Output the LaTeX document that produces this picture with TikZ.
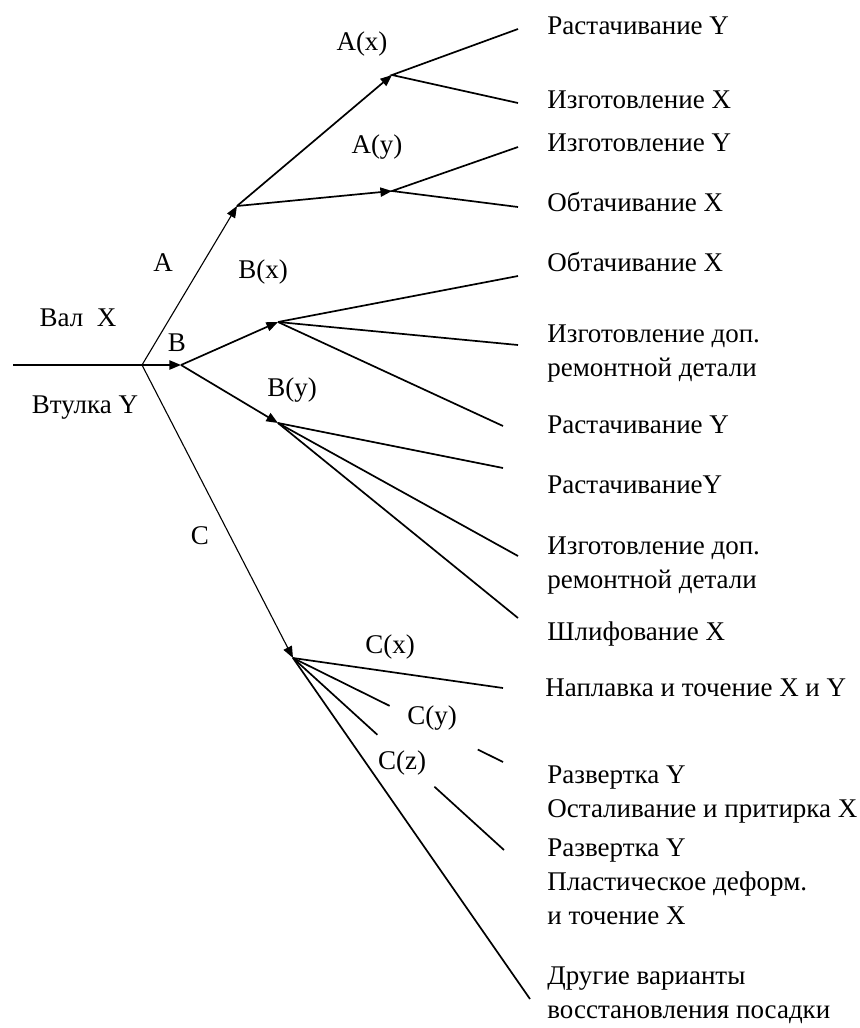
\documentclass[tikz,border=0pt]{standalone}
\usepackage{fontspec}
\setmainfont{Liberation Serif}
\usetikzlibrary{positioning,arrows.meta,calc}
\tikzset{
  >={Triangle[length=5.8pt,width=4.6pt]},
  every node/.style={font=\fontsize{13.5}{17}\selectfont, inner sep=0pt},
  % --- nodes
  lbl/.style   = {anchor=center},
  leaf/.style  = {anchor=west, align=left},
  % --- edges
  e/.style     = {->, line width=0.85pt},
  ethin/.style = {->, line width=0.55pt},
  br/.style    = {line width=0.85pt},
}
\begin{document}
\begin{tikzpicture}[x=0.5pt,y=-0.5pt]
  \useasboundingbox (0,0) rectangle (860,1028);

  % --- branch points
  \coordinate (in)   at (13,365);
  \coordinate (root) at (142,365);
  \coordinate (A)    at (237,206);
  \coordinate (Ax)   at (392,75);
  \coordinate (Ay)   at (392,191);
  \coordinate (B)    at (181,365);
  \coordinate (Bx)   at (278,322);
  \coordinate (By)   at (278,423);
  \coordinate (C)    at (293,658);

  % --- free ends
  \coordinate (ax1) at (518,29);   \coordinate (ax2) at (518,103);
  \coordinate (ay1) at (518,147);  \coordinate (ay2) at (518,207);
  \coordinate (bx1) at (518,276);  \coordinate (bx2) at (518,345);
  \coordinate (bx3) at (503,426);
  \coordinate (by1) at (503,468);  \coordinate (by2) at (518,556);
  \coordinate (by3) at (518,618);
  \coordinate (cx)  at (503,688);
  \coordinate (cy)  at (503,762);
  \coordinate (cz)  at (504,850);
  \coordinate (cw)  at (530,999);

  % --- labels
  \node[lbl] (shaft) at (78,318)  {Вал~ X};
  \node[lbl] (bush)  at (85,408)  {Втулка Y};
  \node[lbl] (lA)    at (163,263) {A};
  \node[lbl] (lB)    at (177,343) {B};
  \node[lbl] (lC)    at (200,536) {C};
  \node[lbl] (lAx)   at (362,44)  {A(x)};
  \node[lbl] (lAy)   at (377,147) {A(y)};
  \node[lbl] (lBx)   at (263,272) {B(x)};
  \node[lbl] (lBy)   at (292,390) {B(y)};
  \node[lbl] (lCx)   at (390,647) {C(x)};
  \node[lbl] (lCy)   at (432,718) {C(y)};
  \node[lbl] (lCz)   at (402,763) {C(z)};

  % --- operations
  \node[leaf] (t1)  at (547,26)  {Растачивание Y};
  \node[leaf] (t2)  at (547,100) {Изготовление X};
  \node[leaf] (t3)  at (547,143) {Изготовление Y};
  \node[leaf] (t4)  at (547,202) {Обтачивание X};
  \node[leaf] (t5)  at (547,262) {Обтачивание X};
  \node[leaf] (t6)  at (547,354) {Изготовление доп.\\ремонтной детали};
  \node[leaf] (t7)  at (547,425) {Растачивание Y};
  \node[leaf] (t8)  at (547,485) {РастачиваниеY};
  \node[leaf] (t9)  at (547,566) {Изготовление доп.\\ремонтной детали};
  \node[leaf] (t10) at (547,634) {Шлифование X};
  \node[leaf] (t11) at (545,688) {Наплавка и точение X и Y};
  \node[leaf] (t12) at (547,795) {Развертка Y\\Осталивание и притирка X};
  \node[leaf] (t13) at (547,882) {Развертка Y\\Пластическое деформ.\\и точение X};
  \node[leaf] (t14) at (547,995) {Другие варианты\\восстановления посадки};

  % --- tree
  \draw[br] (in) -- (root);
  \draw[ethin] (root) -- (A);
  \draw[e] (root) -- (B);
  \draw[ethin] (root) -- (C);

  \draw[e] (A) -- (Ax);
  \draw[e] (A) -- (Ay);
  \draw[e] (B) -- (Bx);
  \draw[e] (B) -- (By);

  \draw[br] (ax1) -- (Ax) -- (ax2);
  \draw[br] (ay1) -- (Ay) -- (ay2);
  \foreach \n in {bx1,bx2,bx3} \draw[br] (Bx) -- (\n);
  \foreach \n in {by1,by2,by3} \draw[br] (By) -- (\n);

  \draw[br] (C) -- (cx);
  \draw[br] (C) -- ($(C)!.46!(cy)$) ($(C)!.88!(cy)$) -- (cy);
  \draw[br] (C) -- ($(C)!.40!(cz)$) ($(C)!.67!(cz)$) -- (cz);
  \draw[br] (C) -- (cw);
\end{tikzpicture}
\end{document}
